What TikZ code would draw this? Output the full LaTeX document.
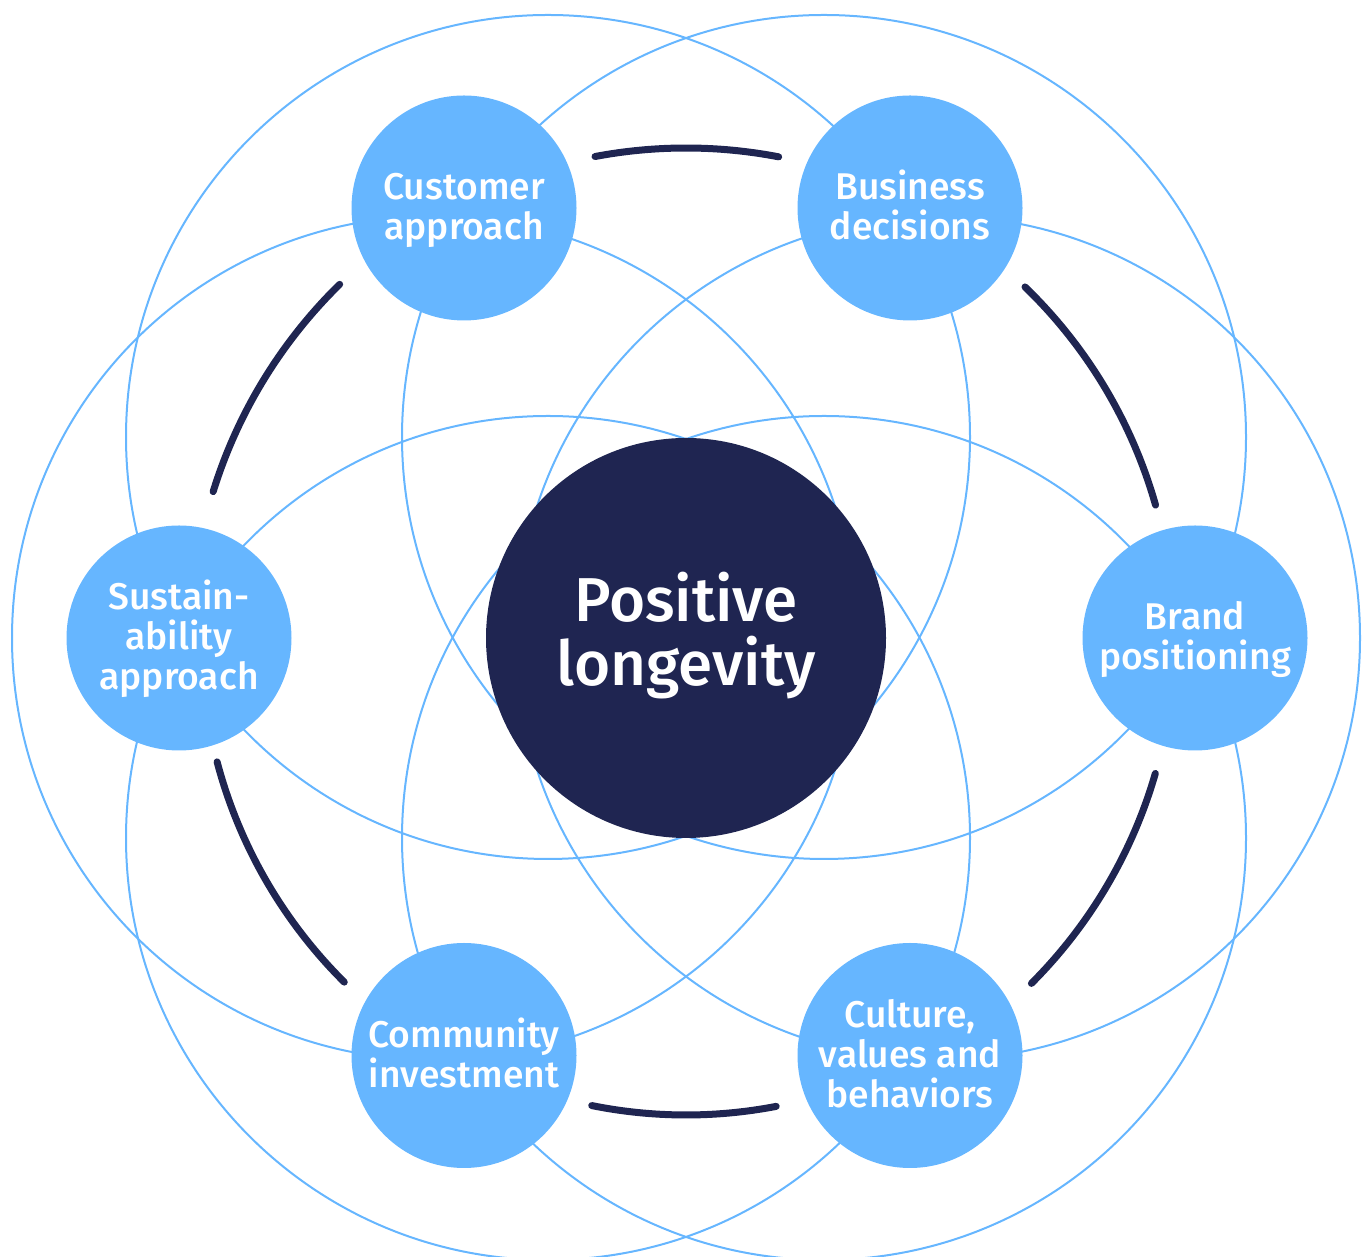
\documentclass[tikz,border=0pt]{standalone}
\usepackage{fontspec}
\setmainfont{Fira Sans}[UprightFont={* Medium}]
\definecolor{lightblue}{HTML}{66B6FF}
\definecolor{navy}{HTML}{1F2551}
\newcommand\topstrutA{\rule{0pt}{17.5pt}}
\newcommand\botstrutA{\rule[-5.5pt]{0pt}{5.5pt}}
\begin{document}
\begin{tikzpicture}[x=0.5pt,y=0.5pt,
  ring/.style={draw=lightblue,line width=1pt},
  topic/.style={circle,fill=lightblue,minimum size=112.5pt,inner sep=0pt,text=white,align=center,
    font=\fontsize{18.6pt}{20pt}\selectfont},
  core/.style={circle,fill=navy,minimum size=200pt,inner sep=0pt,text=white,align=center,
    font=\fontsize{31pt}{32pt}\selectfont,
    execute at end node={\rule[-9.3pt]{0pt}{9.3pt}}},
  link/.style={draw=navy,line width=3.5pt,line cap=round}]
\useasboundingbox (0,0) rectangle (1370,1257);
\clip (0,0) rectangle (1370,1257);
% large rings
\draw[ring] (548,820) circle[radius=422];
\draw[ring] (824,820) circle[radius=422];
\draw[ring] (434,619) circle[radius=422];
\draw[ring] (938,619) circle[radius=422];
\draw[ring] (548,419) circle[radius=422];
\draw[ring] (824,419) circle[radius=422];
% nodes
\node[core]  (center) at (686,619) {Positive\\longevity};
\node[topic] (cust)  at (464,1049) {\topstrutA Customer\\approach\botstrutA};
\node[topic] (bus)   at (910,1049) {\topstrutA Business\\decisions\botstrutA};
\node[topic] (sus)   at (179,619)  {\topstrutA Sustain-\\ability\\approach\botstrutA};
\node[topic] (brand) at (1195,619) {\topstrutA Brand\\positioning\botstrutA};
\node[topic] (comm)  at (464,201.5) {\topstrutA Community\\investment\botstrutA};
\node[topic] (cult)  at (910,201.5) {\topstrutA Culture,\\values and\\behaviors\botstrutA};
% dark arcs around the centre
\draw[link] ([shift={(79.1:490)}]center.center) arc[start angle=79.1, end angle=100.7, radius=490];
\draw[link] ([shift={(15.8:488)}]center.center) arc[start angle=15.8, end angle=46.0, radius=488];
\draw[link] ([shift={(-45.0:488.5)}]center.center) arc[start angle=-45.0, end angle=-16.1, radius=488.5];
\draw[link] ([shift={(258.6:477)}]center.center) arc[start angle=258.6, end angle=280.9, radius=477];
\draw[link] ([shift={(194.8:485)}]center.center) arc[start angle=194.8, end angle=225.2, radius=485];
\draw[link] ([shift={(134.4:495)}]center.center) arc[start angle=134.4, end angle=162.8, radius=495];
\end{tikzpicture}
\end{document}
